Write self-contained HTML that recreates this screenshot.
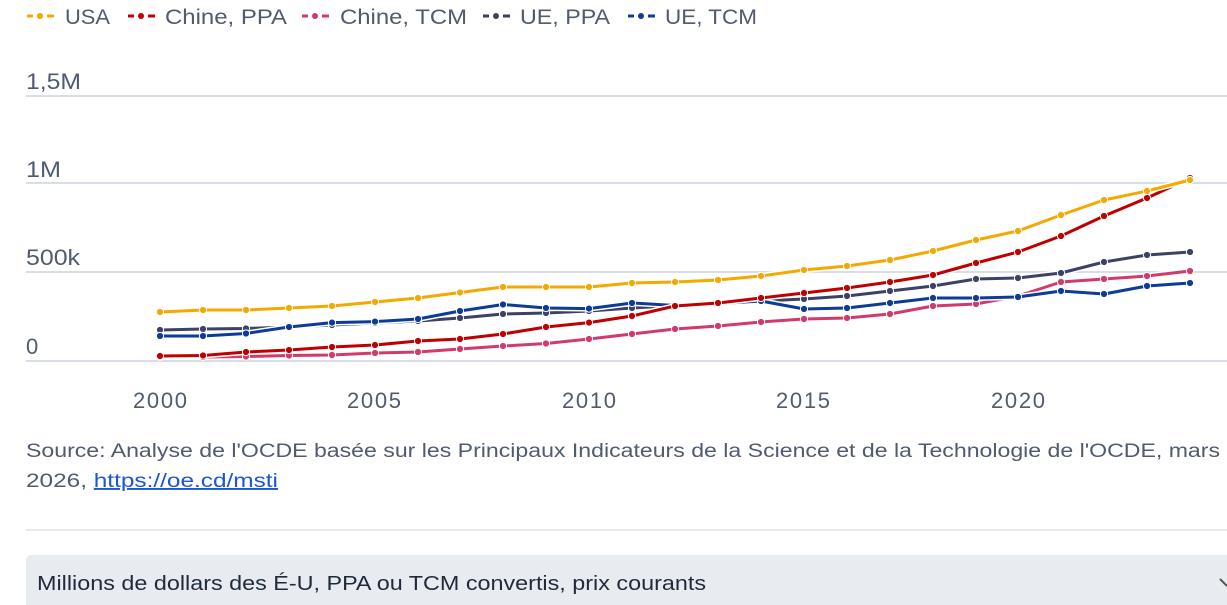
<!DOCTYPE html>
<html><head><meta charset="utf-8"><style>
html,body{margin:0;padding:0;background:#fff;width:1227px;height:605px;overflow:hidden}
svg{display:block}
text{font-family:"Liberation Sans",sans-serif}
</style></head><body>
<svg width="1227" height="605" viewBox="0 0 1227 605" xmlns="http://www.w3.org/2000/svg">
<defs>
<marker id="mY" markerUnits="userSpaceOnUse" markerWidth="10" markerHeight="10" refX="5" refY="5"><circle cx="5" cy="5" r="3.6" fill="#f5a800" stroke="#fff" stroke-width="1"/></marker>
<marker id="mR" markerUnits="userSpaceOnUse" markerWidth="10" markerHeight="10" refX="5" refY="5"><circle cx="5" cy="5" r="3.6" fill="#c00000" stroke="#fff" stroke-width="1"/></marker>
<marker id="mP" markerUnits="userSpaceOnUse" markerWidth="10" markerHeight="10" refX="5" refY="5"><circle cx="5" cy="5" r="3.6" fill="#d23a6b" stroke="#fff" stroke-width="1"/></marker>
<marker id="mG" markerUnits="userSpaceOnUse" markerWidth="10" markerHeight="10" refX="5" refY="5"><circle cx="5" cy="5" r="3.6" fill="#3b4266" stroke="#fff" stroke-width="1"/></marker>
<marker id="mB" markerUnits="userSpaceOnUse" markerWidth="10" markerHeight="10" refX="5" refY="5"><circle cx="5" cy="5" r="3.6" fill="#0d3b99" stroke="#fff" stroke-width="1"/></marker>
</defs>
<g font-size="21" fill="#505b70">
<g stroke-width="3"><line x1="27" y1="16" x2="33" y2="16" stroke="#f5a800"/><line x1="47" y1="16" x2="54" y2="16" stroke="#f5a800"/><circle cx="40" cy="16" r="3" fill="#f5a800"/></g>
<text x="65" y="24" textLength="45" lengthAdjust="spacingAndGlyphs">USA</text>
<g stroke-width="3"><line x1="128" y1="16" x2="134" y2="16" stroke="#c00000"/><line x1="148" y1="16" x2="155" y2="16" stroke="#c00000"/><circle cx="141" cy="16" r="3" fill="#c00000"/></g>
<text x="165" y="24" textLength="122" lengthAdjust="spacingAndGlyphs">Chine, PPA</text>
<g stroke-width="3"><line x1="302" y1="16" x2="308" y2="16" stroke="#d23a6b"/><line x1="322" y1="16" x2="329" y2="16" stroke="#d23a6b"/><circle cx="315" cy="16" r="3" fill="#d23a6b"/></g>
<text x="340" y="24" textLength="127" lengthAdjust="spacingAndGlyphs">Chine, TCM</text>
<g stroke-width="3"><line x1="483" y1="16" x2="489" y2="16" stroke="#3b4266"/><line x1="503" y1="16" x2="510" y2="16" stroke="#3b4266"/><circle cx="496" cy="16" r="3" fill="#3b4266"/></g>
<text x="520" y="24" textLength="90" lengthAdjust="spacingAndGlyphs">UE, PPA</text>
<g stroke-width="3"><line x1="628" y1="16" x2="634" y2="16" stroke="#0d3b99"/><line x1="648" y1="16" x2="655" y2="16" stroke="#0d3b99"/><circle cx="641" cy="16" r="3" fill="#0d3b99"/></g>
<text x="665" y="24" textLength="92" lengthAdjust="spacingAndGlyphs">UE, TCM</text>
</g>
<g stroke="#ccd3de" stroke-width="1.5">
<line x1="26" y1="96" x2="1227" y2="96"/><line x1="26" y1="183" x2="1227" y2="183"/><line x1="26" y1="272" x2="1227" y2="272"/><line x1="26" y1="361" x2="1227" y2="361"/>
</g>
<g font-size="22" fill="#505b70">
<text x="26" y="89" textLength="55" lengthAdjust="spacingAndGlyphs">1,5M</text><text x="26" y="177" textLength="35" lengthAdjust="spacingAndGlyphs">1M</text><text x="26" y="265" textLength="54" lengthAdjust="spacingAndGlyphs">500k</text><text x="26" y="354">0</text>
<text x="133" y="408" textLength="54">2000</text><text x="347" y="408" textLength="54">2005</text><text x="562" y="408" textLength="54">2010</text><text x="776" y="408" textLength="54">2015</text><text x="991" y="408" textLength="54">2020</text>
</g>
<g fill="none" stroke-linejoin="round" stroke-linecap="round">
<polyline stroke="#fff" stroke-width="6" points="160,330 203,329 246,328.5 289,327 332,325 375,323 418,321 460,318 503,314 546,313 589,311 632,308 675,305.5 718,304 761,301 804,299 847,296 890,291 933,286 976,279 1018,278 1061,273 1104,262 1147,255 1190,252"/>
<polyline stroke="#3b4266" stroke-width="3" marker-start="url(#mG)" marker-mid="url(#mG)" marker-end="url(#mG)" points="160,330 203,329 246,328.5 289,327 332,325 375,323 418,321 460,318 503,314 546,313 589,311 632,308 675,305.5 718,304 761,301 804,299 847,296 890,291 933,286 976,279 1018,278 1061,273 1104,262 1147,255 1190,252"/>
<polyline stroke="#fff" stroke-width="6" points="160,357 203,357 246,356.5 289,355.5 332,355 375,353 418,352 460,349 503,346 546,343.5 589,339 632,334 675,329 718,326 761,322 804,319 847,318 890,314 933,306 976,304 1018,296 1061,282 1104,279 1147,276 1190,271"/>
<polyline stroke="#d23a6b" stroke-width="3" marker-start="url(#mP)" marker-mid="url(#mP)" marker-end="url(#mP)" points="160,357 203,357 246,356.5 289,355.5 332,355 375,353 418,352 460,349 503,346 546,343.5 589,339 632,334 675,329 718,326 761,322 804,319 847,318 890,314 933,306 976,304 1018,296 1061,282 1104,279 1147,276 1190,271"/>
<polyline stroke="#fff" stroke-width="6" points="160,336 203,336 246,333.5 289,327 332,322.6 375,321.6 418,319 460,311 503,304.5 546,308 589,308.6 632,303 675,305.5 718,303.6 761,301 804,309 847,308 890,303 933,298 976,298 1018,297 1061,291 1104,294 1147,286 1190,283"/>
<polyline stroke="#0d3b99" stroke-width="3" marker-start="url(#mB)" marker-mid="url(#mB)" marker-end="url(#mB)" points="160,336 203,336 246,333.5 289,327 332,322.6 375,321.6 418,319 460,311 503,304.5 546,308 589,308.6 632,303 675,305.5 718,303.6 761,301 804,309 847,308 890,303 933,298 976,298 1018,297 1061,291 1104,294 1147,286 1190,283"/>
<polyline stroke="#fff" stroke-width="6" points="160,356 203,355.5 246,352 289,350 332,347 375,345 418,341 460,339 503,334 546,327 589,322.6 632,316 675,306 718,303 761,298 804,293 847,288 890,282 933,275 976,263 1018,252 1061,236 1104,216 1147,198 1190,178"/>
<polyline stroke="#c00000" stroke-width="3" marker-start="url(#mR)" marker-mid="url(#mR)" marker-end="url(#mR)" points="160,356 203,355.5 246,352 289,350 332,347 375,345 418,341 460,339 503,334 546,327 589,322.6 632,316 675,306 718,303 761,298 804,293 847,288 890,282 933,275 976,263 1018,252 1061,236 1104,216 1147,198 1190,178"/>
<polyline stroke="#fff" stroke-width="6" points="160,312 203,310 246,310 289,308 332,306 375,302 418,298 460,292.5 503,287 546,287 589,287 632,283 675,282 718,280 761,276 804,270 847,266 890,260 933,251 976,240 1018,231 1061,215 1104,200 1147,191 1190,180"/>
<polyline stroke="#f5a800" stroke-width="3" marker-start="url(#mY)" marker-mid="url(#mY)" marker-end="url(#mY)" points="160,312 203,310 246,310 289,308 332,306 375,302 418,298 460,292.5 503,287 546,287 589,287 632,283 675,282 718,280 761,276 804,270 847,266 890,260 933,251 976,240 1018,231 1061,215 1104,200 1147,191 1190,180"/>
</g>
<text x="26" y="457" font-size="19" fill="#505b70" textLength="1194" lengthAdjust="spacingAndGlyphs">Source: Analyse de l'OCDE basée sur les Principaux Indicateurs de la Science et de la Technologie de l'OCDE, mars</text>
<text x="26" y="487" font-size="19" fill="#505b70" textLength="252" lengthAdjust="spacingAndGlyphs">2026, <tspan fill="#1a56d6" text-decoration="underline">https://oe.cd/msti</tspan></text>
<line x1="26" y1="530" x2="1227" y2="530" stroke="#dde2e8" stroke-width="1.5"/>
<rect x="26" y="555" width="1210" height="60" rx="5" fill="#e8ecf0"/>
<text x="37" y="590" font-size="20" fill="#1f2a3a" textLength="669" lengthAdjust="spacingAndGlyphs">Millions de dollars des É-U, PPA ou TCM convertis, prix courants</text>
<path d="M1220 579 L1227 586" stroke="#555" stroke-width="2"/>
</svg>
</body></html>
